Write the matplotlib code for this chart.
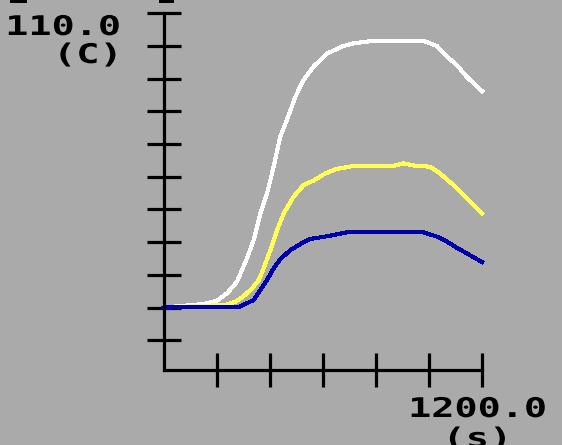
import matplotlib
matplotlib.use("Agg")
import matplotlib.pyplot as plt
from matplotlib.patheffects import AbstractPathEffect
from matplotlib.transforms import Affine2D
from matplotlib.patches import Rectangle

# ---- data (time in s, temperature in C) ----
white_t = [0, 152, 202, 240, 277, 315, 340, 365, 390, 415, 440, 465, 497, 528,
           565, 616, 678, 716, 791, 979, 1030, 1067, 1105, 1142, 1200]
white_v = [20, 21.1, 22.1, 24.4, 27.9, 35.1, 40.7, 48.8, 54.9, 63.1, 72.3, 77.4,
           84.5, 89.6, 93.7, 97.7, 100.0, 100.8, 101.6, 101.6, 100.0, 96.8, 94.2,
           90.6, 86.2]

yellow_t = [0, 233, 271, 302, 334, 359, 377, 403, 428, 453, 490, 528, 565, 609,
            653, 716, 866, 904, 954, 1004, 1042, 1092, 1142, 1200]
yellow_v = [20, 20.8, 21.8, 23.5, 25.9, 28.4, 32.0, 37.6, 43.7, 48.8, 53.9, 57.5,
            58.8, 61.0, 62.4, 63.3, 63.3, 64.1, 63.3, 63.1, 61.0, 57.5, 53.4, 48.7]

blue_t = [0, 287, 308, 340, 365, 390, 415, 440, 478, 515, 553, 609, 691, 979,
          1030, 1067, 1105, 1142, 1200]
blue_v = [20, 20.2, 21.1, 22.3, 25.4, 28.4, 32.0, 34.8, 37.6, 39.4, 41.0, 41.7,
          43.0, 43.0, 41.7, 40.2, 38.3, 36.6, 33.9]

x_ticks = [200, 400, 600, 800, 1000, 1200]
y_ticks = [10, 20, 30, 40, 50, 60, 70, 80, 90, 100, 110]
y_max_label = "110.0"
y_unit_label = "(C)"
x_max_label = "1200.0"
x_unit_label = "(s)"

BG = "#aaaaaa"
W, H = 562, 445


class Stretch(AbstractPathEffect):
    """Stretch glyphs horizontally about their centre (wide pixel-font look)."""

    def __init__(self, sx):
        super().__init__()
        self.sx = sx

    def draw_path(self, renderer, gc, tpath, affine, rgbFace=None):
        ext = tpath.get_extents(affine)
        cx = 0.5 * (ext.x0 + ext.x1)
        tr = affine + Affine2D().translate(-cx, 0).scale(self.sx, 1).translate(cx, 0)
        renderer.draw_path(gc, tpath, tr, rgbFace)


fig = plt.figure(figsize=(W / 100, H / 100), dpi=100, facecolor=BG)

x0px, x1px = 163.5, 482
ybot_px, ytop_px = 370, 13.3
ax = fig.add_axes([x0px / W, (H - ybot_px) / H, (x1px - x0px) / W,
                   (ybot_px - ytop_px) / H])
ax.set_facecolor(BG)
ax.set_xlim(0, 1200)
ax.set_ylim(0.9, 110)

lw = 2.2
ax.plot(white_t, white_v, color="#ffffff", lw=lw, clip_on=False,
        solid_joinstyle="miter", antialiased=False)
ax.plot(yellow_t, yellow_v, color="#ffff55", lw=lw, clip_on=False,
        solid_joinstyle="miter", antialiased=False)
ax.plot(blue_t, blue_v, color="#0000aa", lw=lw, clip_on=False,
        solid_joinstyle="miter", antialiased=False)

for s in ("top", "right"):
    ax.spines[s].set_visible(False)
for s in ("left", "bottom"):
    ax.spines[s].set_linewidth(2.3)
    ax.spines[s].set_color("black")
    ax.spines[s].set_zorder(3)

ax.set_xticks(x_ticks)
ax.set_yticks(y_ticks)
ax.set_xticklabels([])
ax.set_yticklabels([])
ax.tick_params(axis="both", direction="inout", length=24, width=2.3,
               color="black")

font = dict(family="DejaVu Sans Mono", weight="bold", fontsize=19.5,
            color="black")
st = [Stretch(1.42)]

fig.text(63.5 / W, 1 - 35 / H, y_max_label, ha="center", va="baseline",
         path_effects=st, **font)
fig.text(88 / W, 1 - 63 / H, y_unit_label, ha="center", va="baseline",
         path_effects=st, **font)
fig.text(478 / W, 1 - 417 / H, x_max_label, ha="center", va="baseline",
         path_effects=st, **font)
fig.text(477.5 / W, 1 - 447 / H, x_unit_label, ha="center", va="baseline",
         path_effects=st, **font)

# cut-off marks at the very top edge
for (xa, xb) in [(10, 27), (159, 174)]:
    fig.patches.append(Rectangle((xa / W, 1 - 3 / H), (xb - xa) / W, 3 / H,
                                 transform=fig.transFigure, color="black",
                                 lw=0))

fig.savefig("out.png", dpi=100, facecolor=BG)
